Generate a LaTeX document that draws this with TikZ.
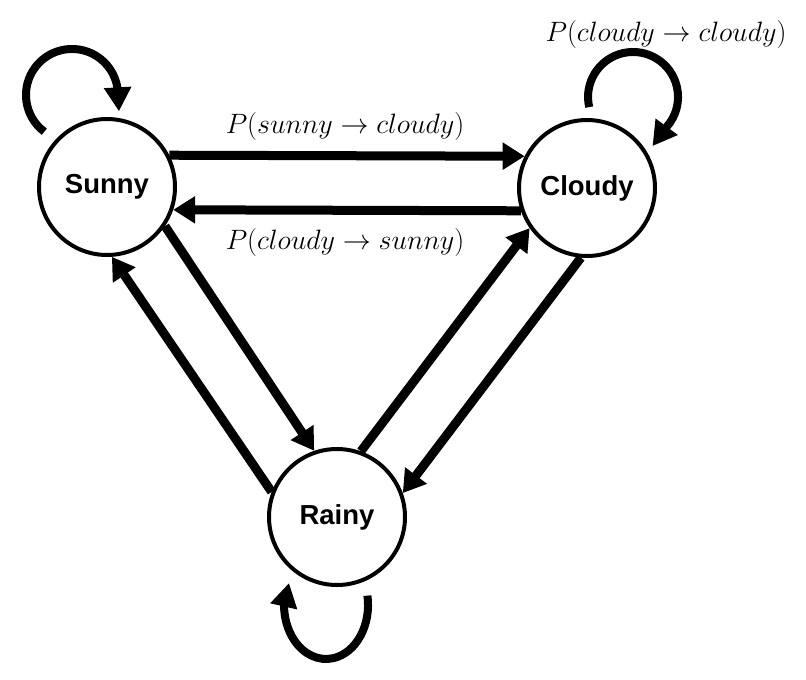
\documentclass[tikz,border=0pt]{standalone}
\usepackage{fix-cm}
\usepackage{fontspec}
\newfontfamily\statefont{Liberation Sans}
\usetikzlibrary{arrows.meta}
\tikzset{
  state/.style={circle, draw, line width=4pt, minimum size=136pt, inner sep=0pt,
    font=\statefont\bfseries\fontsize{27.5}{31}\selectfont},
  trans/.style={line width=9pt, -{Triangle[length=22pt,width=26pt]}},
  selfloop/.style={line width=8pt, -{Triangle[length=24pt,width=26pt]}},
  prob/.style={font=\fontsize{28}{32}\selectfont, inner sep=0pt}
}
\begin{document}
\begin{tikzpicture}[x=1pt,y=-1pt]
\useasboundingbox (0,0) rectangle (806,680);
\node[state] (S) at (107,187) {Sunny};
\node[state] (C) at (587,188) {Cloudy};
\node[state] (R) at (337,517) {Rainy};
% horizontal transitions
\draw[trans] (S.27) -- (C.153);
\draw[trans] (C.199) -- (S.-19);
% diagonal transitions
\draw[trans] (S.-34) -- (R.109);
\draw[trans] (R.159) -- (S.-86);
\draw[trans] (R.70) -- (C.215);
\draw[trans] (C.265) -- (R.20);
% self loops
\draw[selfloop] ([shift={(-62.7,-55.3)}]S.center) arc[start angle=127, end angle=358, radius=46] -- ++(1,18);
\draw[selfloop] ([shift={(2.2,-80.9)}]C.center) arc[start angle=167, end angle=402, radius=45] -- ++(-14,19);
\draw[selfloop] ([shift={(30.4,78.6)}]R.center) arc[start angle=-10, end angle=180, x radius=42, y radius=54] -- ++(5,-22);
% labels
\node[prob] (l1) at (345,126) {$P(sunny \rightarrow cloudy)$};
\node[prob] (l2) at (345,242) {$P(cloudy \rightarrow sunny)$};
\node[prob] (l3) at (666,35) {$P(cloudy \rightarrow cloudy)$};
\end{tikzpicture}
\end{document}
